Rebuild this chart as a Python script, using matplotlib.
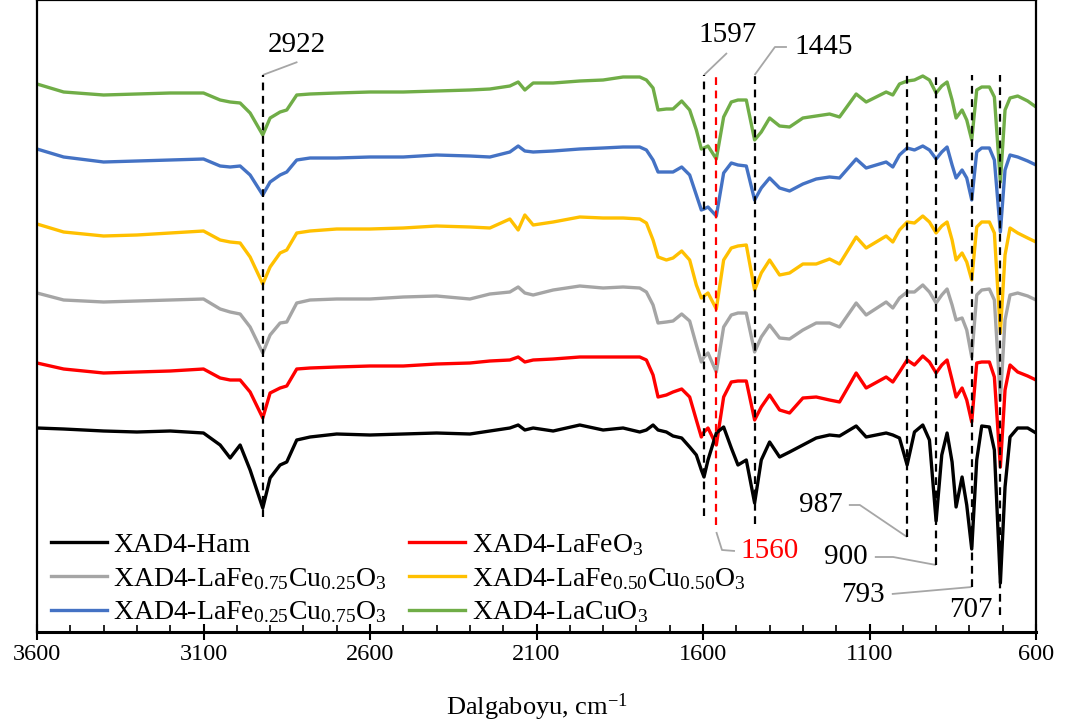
import numpy as np
import matplotlib
matplotlib.use("Agg")
import matplotlib.pyplot as plt

plt.rcParams['font.family'] = ['Liberation Serif', 'DejaVu Serif']
plt.rcParams['mathtext.fontset'] = 'custom'
plt.rcParams['mathtext.rm'] = 'Liberation Serif'
plt.rcParams['mathtext.it'] = 'Liberation Serif:italic'
plt.rcParams['mathtext.bf'] = 'Liberation Serif:bold'

# Wavenumber grid (cm-1) shared by all spectra
wavenumber = [3600, 3520, 3400, 3300, 3200, 3100, 3050, 3020, 2990, 2960,
              2922, 2900, 2870, 2850, 2820, 2780, 2700, 2600, 2500, 2400,
              2300, 2240, 2180, 2155, 2135, 2110, 2050, 1970, 1900, 1840,
              1790, 1770, 1750, 1735, 1710, 1690, 1664, 1640, 1620, 1605,
              1597, 1585, 1560, 1538, 1515, 1495, 1470, 1445, 1425, 1400,
              1370, 1340, 1300, 1260, 1220, 1190, 1140, 1110, 1050, 1030,
              1010, 987, 965, 940, 920, 900, 883, 867, 852, 840,
              822, 808, 793, 778, 763, 740, 725, 707, 693, 678,
              655, 625, 600]

# Offset transmittance (a.u.) of each sample
ham = [20.4, 20.3, 20.1, 20.0, 20.1, 19.9, 18.7, 17.4, 18.7, 16.2,
       12.4, 15.4, 16.7, 17.0, 19.2, 19.5, 19.8, 19.7, 19.8, 19.9,
       19.8, 20.1, 20.4, 20.7, 20.2, 20.4, 20.1, 20.7, 20.2, 20.4,
       20.0, 20.2, 20.7, 20.2, 20.0, 19.6, 19.4, 18.5, 17.7, 16.2,
       15.5, 17.2, 19.9, 20.5, 18.4, 16.7, 17.2, 12.9, 17.2, 19.0,
       17.5, 18.0, 18.7, 19.4, 19.7, 19.6, 20.6, 19.5, 19.9, 19.7,
       19.4, 16.7, 20.0, 20.7, 19.2, 11.1, 17.7, 19.9, 17.0, 12.5,
       15.5, 12.7, 8.3, 17.2, 20.6, 20.5, 18.2, 4.9, 14.5, 19.5,
       20.4, 20.4, 19.9]

lafeo3 = [26.9, 26.3, 25.9, 26.0, 26.1, 26.3, 25.4, 25.2, 25.2, 24.0,
          21.4, 23.9, 24.4, 24.6, 26.3, 26.4, 26.5, 26.6, 26.6, 26.8,
          26.9, 27.1, 27.2, 27.5, 27.0, 27.2, 27.3, 27.5, 27.5, 27.5,
          27.5, 27.2, 25.7, 23.5, 23.7, 24.0, 24.3, 23.5, 21.2, 19.5,
          20.0, 20.4, 18.7, 23.5, 25.0, 25.1, 25.1, 21.2, 22.5, 23.7,
          22.2, 21.9, 23.4, 23.5, 23.2, 23.0, 25.9, 24.4, 25.5, 25.0,
          26.0, 27.2, 26.7, 27.6, 27.0, 25.9, 26.7, 27.2, 25.2, 23.5,
          24.4, 23.2, 21.0, 26.9, 27.0, 27.0, 25.5, 16.5, 24.2, 26.7,
          26.0, 25.6, 25.2]

fe75cu25 = [33.9, 33.2, 33.0, 33.1, 33.2, 33.3, 32.3, 32.0, 31.8, 30.5,
            27.9, 29.7, 30.9, 31.0, 32.9, 33.2, 33.3, 33.3, 33.5, 33.6,
            33.3, 33.8, 34.0, 34.5, 33.9, 33.7, 34.2, 34.6, 34.4, 34.5,
            34.4, 34.0, 32.7, 30.9, 31.0, 31.1, 31.8, 31.1, 28.7, 27.0,
            27.5, 27.9, 26.0, 30.5, 31.7, 31.9, 31.9, 28.0, 29.5, 30.7,
            29.4, 29.3, 30.2, 30.9, 30.9, 30.5, 32.9, 31.7, 33.0, 32.4,
            33.4, 34.0, 34.0, 34.7, 34.0, 32.9, 33.7, 34.3, 32.7, 31.2,
            31.4, 30.2, 27.5, 33.7, 34.2, 34.3, 33.2, 23.2, 31.2, 33.7,
            33.9, 33.6, 33.2]

fe50cu50 = [40.8, 40.0, 39.6, 39.7, 39.9, 40.1, 39.2, 39.0, 38.9, 37.5,
            34.8, 36.5, 37.9, 38.2, 39.9, 40.1, 40.3, 40.3, 40.4, 40.6,
            40.5, 40.4, 41.3, 40.2, 41.7, 40.7, 41.0, 41.5, 41.4, 41.4,
            41.3, 40.9, 39.2, 37.5, 37.2, 37.4, 38.1, 37.2, 34.7, 33.4,
            33.6, 33.9, 32.3, 37.2, 38.4, 38.6, 38.7, 34.2, 35.9, 37.2,
            35.7, 35.9, 36.8, 36.8, 37.3, 36.8, 39.5, 38.4, 39.6, 39.0,
            40.2, 41.0, 40.9, 41.6, 41.0, 39.9, 40.6, 41.0, 39.2, 37.2,
            37.9, 37.0, 35.2, 40.5, 41.0, 41.0, 39.9, 29.9, 37.7, 40.4,
            39.9, 39.4, 39.0]

fe25cu75 = [48.3, 47.5, 47.0, 47.1, 47.2, 47.3, 46.6, 46.5, 46.6, 45.7,
            43.7, 45.0, 45.7, 46.0, 47.2, 47.4, 47.4, 47.5, 47.5, 47.7,
            47.6, 47.5, 48.0, 48.6, 48.1, 48.0, 48.1, 48.3, 48.4, 48.5,
            48.5, 48.2, 47.2, 46.0, 46.0, 46.0, 46.5, 45.7, 43.7, 42.2,
            42.3, 42.5, 41.6, 45.9, 46.9, 46.7, 46.6, 43.2, 44.4, 45.4,
            44.4, 44.1, 44.8, 45.3, 45.5, 45.4, 47.3, 46.4, 47.0, 46.5,
            47.7, 48.4, 48.2, 48.6, 48.2, 47.3, 48.0, 48.5, 46.7, 45.4,
            46.2, 45.4, 43.2, 48.0, 48.4, 48.4, 47.2, 40.0, 46.2, 47.7,
            47.5, 47.1, 46.7]

lacuo3 = [54.8, 54.0, 53.7, 53.8, 53.9, 53.9, 53.2, 53.0, 52.9, 51.9,
          49.7, 51.4, 52.0, 52.2, 53.7, 53.8, 53.9, 54.0, 54.0, 54.1,
          54.2, 54.3, 54.6, 55.0, 54.2, 54.9, 54.9, 55.1, 55.2, 55.5,
          55.5, 55.2, 54.4, 52.2, 52.3, 52.3, 53.1, 52.2, 50.2, 48.3,
          48.4, 48.6, 47.3, 51.5, 53.0, 53.2, 53.2, 49.2, 50.0, 51.4,
          50.6, 50.5, 51.4, 51.6, 51.8, 51.5, 53.8, 53.0, 54.0, 53.7,
          54.8, 55.1, 55.2, 55.6, 55.2, 53.9, 54.6, 55.0, 53.2, 51.4,
          52.2, 51.2, 49.2, 54.2, 54.5, 54.5, 53.5, 45.0, 52.2, 53.4,
          53.6, 53.1, 52.5]

series = [ham, lafeo3, fe75cu25, fe50cu50, fe25cu75, lacuo3]
series_labels = ['XAD4-Ham',
                 r'XAD4-LaFeO$_{3}$',
                 r'XAD4-LaFe$_{0.75}$Cu$_{0.25}$O$_{3}$',
                 r'XAD4-LaFe$_{0.50}$Cu$_{0.50}$O$_{3}$',
                 r'XAD4-LaFe$_{0.25}$Cu$_{0.75}$O$_{3}$',
                 r'XAD4-LaCuO$_{3}$']
series_colors = ['#000000', '#FF0000', '#A5A5A5', '#FFC000', '#4472C4', '#70AD47']

# Marked bands: wavenumber, lower end of the guide line
band_black = [2922, 1597, 1445, 987, 900, 793, 707]
band_black_low = [11.5, 11.6, 10.8, 9.5, 6.7, 4.5, 1.7]
band_red = [1560]
band_red_low = [10.7]
guide_top = 55.7

fig = plt.figure(figsize=(10.7, 7.24), dpi=100)
ax = fig.add_axes([37 / 1070, 92 / 724, 999 / 1070, 632 / 724])

handles = {}
for i in reversed(range(len(series))):
    ln, = ax.plot(wavenumber, series[i], color=series_colors[i], lw=2.4,
                  solid_joinstyle='round', zorder=2 + (len(series) - i) * 0.01)
    handles[i] = ln

dash = (0, (3.5, 2.5))
ax.vlines(band_black, band_black_low, guide_top, colors='black',
          linestyles=[dash], lw=1.6, zorder=4)
ax.vlines(band_red, band_red_low, guide_top, colors='red',
          linestyles=[dash], lw=1.6, zorder=4)

lead = dict(color='#A6A6A6', lw=1.3, zorder=3, solid_capstyle='butt')
tkw = dict(fontsize=21, va='center', zorder=5)

# 2922
ax.plot([2922, 2818], [55.7, 57.0], **lead)
ax.text(2819, 58.7, '2922', ha='center', **tkw)
# 1597
ax.plot([1597, 1528], [55.7, 57.9], **lead)
ax.text(1525, 59.7, '1597', ha='center', **tkw)
# 1445
ax.plot([1445, 1384, 1348], [55.7, 58.5, 58.5], **lead)
ax.text(1324, 58.5, '1445', ha='left', **tkw)
# 1560
ax.plot([1560, 1543, 1504], [10.0, 8.2, 8.1], **lead)
ax.text(1489, 8.1, '1560', ha='left', color='red', **tkw)
# 987
ax.plot([987, 1129, 1162], [9.5, 12.7, 12.7], **lead)
ax.text(1180, 12.7, '987', ha='right', **tkw)
# 900
ax.plot([900, 1029, 1084], [6.7, 7.5, 7.5], **lead)
ax.text(1105, 7.5, '900', ha='right', **tkw)
# 793
ax.plot([793, 1033], [4.5, 3.8], **lead)
ax.text(1053, 3.7, '793', ha='right', **tkw)
# 707
ax.text(795, 2.2, '707', ha='center', **tkw)

ax.set_xlim(3600, 600)
ax.set_ylim(0, 63.2)
ax.set_xticks(np.arange(600, 3601, 500))
ax.set_xticks(np.arange(600, 3601, 100), minor=True)
ax.tick_params(axis='x', which='major', direction='inout', length=12, width=1.5,
               labelsize=17.5, pad=3)
ax.tick_params(axis='x', which='minor', direction='in', length=5, width=1.2)
ax.set_yticks([])
for s in ax.spines.values():
    s.set_linewidth(1.6)
ax.spines['bottom'].set_linewidth(2.2)
ax.set_xlabel('Dalgaboyu, cm$^{-1}$', fontsize=19, labelpad=19)

order = [0, 2, 4, 1, 3, 5]
ax.legend([handles[i] for i in order], [series_labels[i] for i in order],
          ncol=2, loc='upper left', bbox_to_anchor=(0.014, 0.158),
          frameon=False, fontsize=20, handlelength=2.0, handletextpad=0.25,
          columnspacing=0.8, labelspacing=0.28, borderpad=0, borderaxespad=0)

fig.savefig('out.png', dpi=100)
